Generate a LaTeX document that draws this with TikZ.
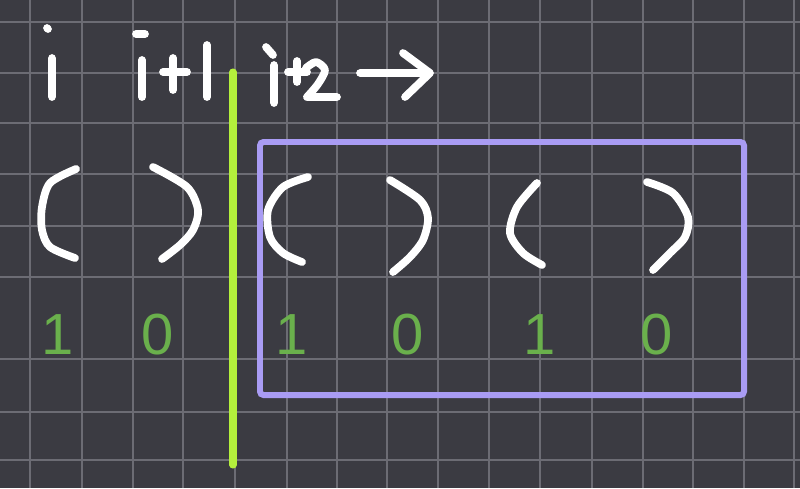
\documentclass[tikz,border=0pt]{standalone}
\usepackage{fontspec}
\newfontfamily\digitfont{Liberation Sans}
\definecolor{board}{HTML}{3B3B42}
\definecolor{gridline}{HTML}{6C6C74}
\definecolor{limeline}{HTML}{B4F03C}
\definecolor{lavender}{HTML}{A99CF4}
\definecolor{numgreen}{HTML}{6AB04C}
\begin{document}
\begin{tikzpicture}[x=0.02cm,y=-0.02cm,
  hand/.style={white,line width=4.4pt,line cap=round,line join=round},
  num/.style={text=numgreen,font=\digitfont\fontsize{33}{33}\selectfont,inner sep=0pt}]
  \fill[board] (0,0) rectangle (800,488);
  \useasboundingbox (0,0) rectangle (800,488);
  \foreach \gx in {30,82,133,183,235,287,337,387,438,489,540,592,643,693,744,794}{\draw[gridline,line width=0.8pt] (\gx,0)--(\gx,488);}
  \foreach \gy in {22,73,123,174,226,277,359,412,460}{\draw[gridline,line width=0.8pt] (0,\gy)--(800,\gy);}
  % index labels
  \draw[hand] (47,28)--(48,29) (52,58)--(52,97);
  \draw[hand] (136,34)--(145,34) (142,60)--(142,97);
  \draw[hand] (173,58)--(173,90) (163,72)--(187,72) (207,45)--(207,97);
  \draw[hand] (266,47)--(273,55) (274,65)--(274,103);
  \draw[hand] (297,61)--(297,82) (288,72)--(307,72);
  \draw[hand] plot[smooth] coordinates {(306,68) (316,62) (325,70) (318,84) (307,97)} -- (337,97);
  \coordinate (tail) at (360,73); \coordinate (tip) at (430,73);
  \draw[hand] (tail)--(tip) (403,53)--(tip)--(405,97);
  % divider and window
  \draw[limeline,line width=4pt,line cap=round] (233,72)--(233,465);
  \draw[lavender,line width=3.4pt,rounded corners=2pt] (260,142) rectangle (744,395);
  % brackets
  \draw[hand] plot[smooth] coordinates {(76,169) (50,183) (42,207) (42,230) (50,247) (75,258)};
  \draw[hand] plot[smooth] coordinates {(153,167) (187,187) (198,210) (193,230) (180,245) (162,259)};
  \draw[hand] plot[smooth] coordinates {(308,177) (283,187) (268,210) (270,237) (283,253) (302,262)};
  \draw[hand] plot[smooth] coordinates {(390,180) (420,200) (428,218) (423,240) (410,257) (393,272)};
  \draw[hand] plot[smooth] coordinates {(537,183) (517,207) (510,233) (523,253) (542,265)};
  \draw[hand] plot[smooth] coordinates {(647,182) (673,193) (688,217) (685,237) (670,253) (653,270)};
  % depth digits
  \node[num] (d1) at (58,335) {1};
  \node[num] (d2) at (158,335) {0};
  \node[num] (d3) at (292,335) {1};
  \node[num] (d4) at (408,335) {0};
  \node[num] (d5) at (540,335) {1};
  \node[num] (d6) at (657,335) {0};
\end{tikzpicture}
\end{document}
